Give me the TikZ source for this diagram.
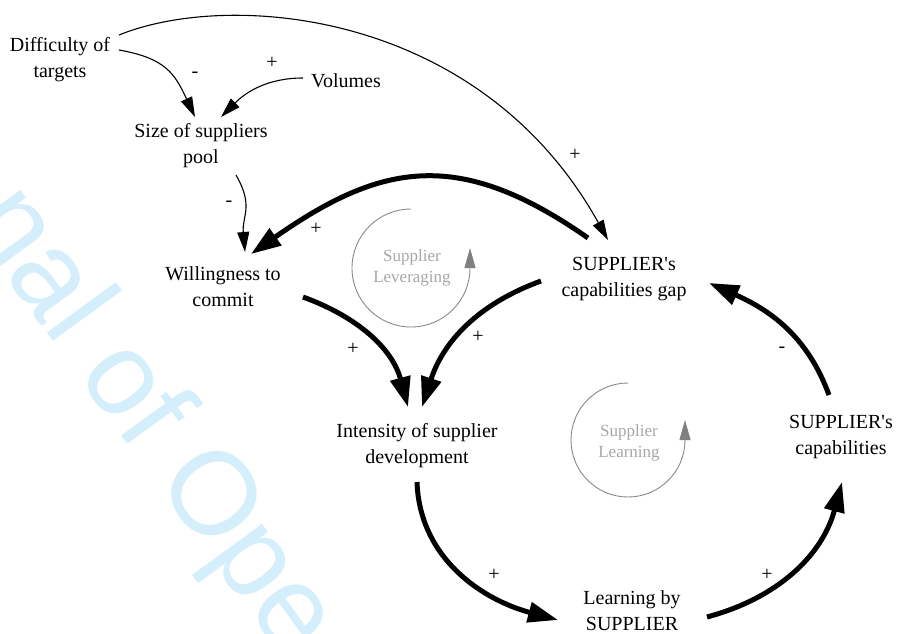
\documentclass[tikz,border=0pt]{standalone}
\usepackage{fontspec}
\setmainfont{Liberation Serif}
\newfontfamily\wmfont{Liberation Sans}
\usetikzlibrary{arrows.meta}
\definecolor{wmc}{RGB}{212,238,251}
\definecolor{loopgray}{RGB}{136,136,136}
\definecolor{looptext}{RGB}{166,166,166}
\begin{document}
\begin{tikzpicture}[x=1pt,y=1pt,
  lbl/.style={font=\fontsize{20}{26}\selectfont, align=center, inner sep=0pt},
  sgn/.style={font=\fontsize{20}{24}\selectfont, inner sep=0pt},
  thk/.style={line width=5pt, -{Triangle[length=30pt,width=20pt]}},
  thn/.style={line width=1.1pt, -{Triangle[length=20pt,width=12pt]}},
  loopc/.style={draw=loopgray, line width=0.9pt, -{Triangle[length=20pt,width=11pt,color=gray]}},
  looplbl/.style={font=\fontsize{17}{21}\selectfont, text=looptext, align=center, inner sep=0pt},
  wm/.style={font=\wmfont\fontsize{118}{118}\selectfont, text=wmc, anchor=base west, inner sep=0pt, transform shape},
]
\useasboundingbox (0,0) rectangle (898,-633);
% watermark
\begin{scope}
\clip (0,0) rectangle (898,-633);
\begin{scope}[shift={(-35,-220)}, rotate=-54]
\node[wm] (wm1) at (0,0) {n};
\node[wm] (wm2) at (65.6,0) {a};
\node[wm] (wm3) at (131.2,0) {l};
\node[wm] (wm4) at (190.2,0) {o};
\node[wm] (wm5) at (255.8,0) {f};
\node[wm] (wm6) at (321.4,0) {O};
\node[wm] (wm7) at (413.2,0) {p};
\node[wm] (wm8) at (478.8,0) {e};
\end{scope}
\end{scope}

% variables
\node[lbl] (diff) at (60,-60) {Difficulty of\\targets};
\node[lbl] (vol) at (346,-81) {Volumes};
\node[lbl] (size) at (201,-146) {Size of suppliers\\pool};
\node[lbl] (will) at (223,-287) {Willingness to\\commit};
\node[lbl] (gap) at (624,-279) {SUPPLIER\textquotesingle s\\capabilities gap};
\node[lbl] (inten) at (417,-446) {Intensity of supplier\\development};
\node[lbl] (caps) at (841,-437) {SUPPLIER\textquotesingle s\\capabilities};
\node[lbl] (learn) at (632,-611) {Learning by\\SUPPLIER};

% loop labels
\node[looplbl] (lev) at (412,-267.5) {Supplier\\Leveraging};
\node[looplbl] (lrn) at (629,-442.5) {Supplier\\Learning};
\draw[loopc] ([shift={(-1,58.5)}]lev.center) arc[start angle=90,end angle=360,radius=59] -- ++(0,20);
\draw[loopc] ([shift={(-1,59.5)}]lrn.center) arc[start angle=90,end angle=360,radius=57] -- ++(0,20);

% thin links
\draw[thn] ([shift={(59,10)}]diff.center) to[out=-10,in=115,looseness=1.2] ([shift={(-6,29)}]size.center);
\draw[thn] ([shift={(-43,3)}]vol.center) to[out=180,in=45] ([shift={(20,29)}]size.center);
\draw[thn] ([shift={(35,-29)}]size.center) to[out=-60,in=95,looseness=1.2] ([shift={(22,35)}]will.center);
\draw[thn] ([shift={(59,25)}]diff.center) .. controls (230,10) and (480,-10) .. ([shift={(-16,39)}]gap.center);

% thick links
\draw[thk] ([shift={(-36,41)}]gap.center) to[out=145,in=35,looseness=1.2] ([shift={(28,33)}]will.center);
\draw[thk] ([shift={(80,-10)}]will.center) to[out=-20,in=105] ([shift={(-9,39)}]inten.center);
\draw[thk] ([shift={(-83,-2)}]gap.center) to[out=200,in=72] ([shift={(5,39)}]inten.center);
\draw[thk] ([shift={(-12,42)}]caps.center) to[out=110,in=-24] ([shift={(85,-4)}]gap.center);
\draw[thk] ([shift={(0,-36)}]inten.center) to[out=-88,in=165] ([shift={(-74,-9)}]learn.center);
\draw[thk] ([shift={(75,-6)}]learn.center) to[out=15,in=-105] ([shift={(1,-45)}]caps.center);

% polarity signs
\node[sgn] (p1) at (195,-75) {-};
\node[sgn] (p2) at (272,-63) {+};
\node[sgn] (p3) at (229,-204) {-};
\node[sgn] (p4) at (575,-155) {+};
\node[sgn] (p5) at (316,-229) {+};
\node[sgn] (p6) at (353,-349) {+};
\node[sgn] (p7) at (478,-337) {+};
\node[sgn] (p8) at (782,-350) {-};
\node[sgn] (p9) at (494,-575) {+};
\node[sgn] (p10) at (767,-575) {+};
\end{tikzpicture}
\end{document}
